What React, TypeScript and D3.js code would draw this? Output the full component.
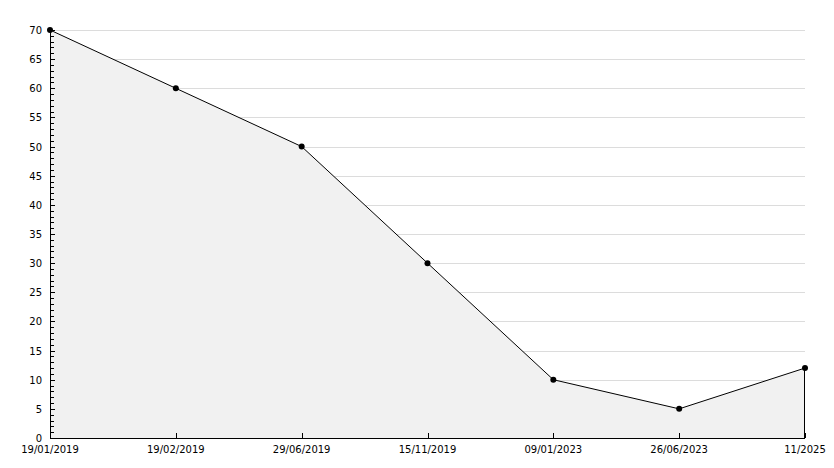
import React, { useEffect, useRef } from "react";
import * as d3 from "d3";

// chart values
const dates = ["19/01/2019", "19/02/2019", "29/06/2019", "15/11/2019", "09/01/2023", "26/06/2023", "11/2025"];
const values = [70, 60, 50, 30, 10, 5, 12];
const yTicks = d3.range(0, 71, 5);
const yMinorTicks = d3.range(0, 71, 1);

const W = 834, H = 468;
const margin = { top: 30, right: 29, bottom: 30, left: 50 };

function AreaChart() {
  const ref = useRef<SVGSVGElement>(null);

  useEffect(() => {
    const svg = d3.select(ref.current);
    svg.selectAll("*").remove();

    const width = W - margin.left - margin.right;
    const height = H - margin.top - margin.bottom;

    const x = d3.scalePoint<string>().domain(dates).range([0, width]);
    const y = d3.scaleLinear().domain([0, 70]).range([height, 0]);

    const g = svg.append("g")
      .attr("transform", "translate(" + margin.left + "," + margin.top + ")");

    // gridlines
    g.selectAll("line.grid")
      .data(yTicks.filter(t => t > 0))
      .enter()
      .append("line")
      .attr("class", "grid")
      .attr("x1", 0)
      .attr("x2", width)
      .attr("y1", d => Math.round(y(d)) + 0.5)
      .attr("y2", d => Math.round(y(d)) + 0.5)
      .attr("stroke", "#dcdcdc");

    const data = dates.map((d, i) => ({ d, v: values[i] }));

    const area = d3.area<{ d: string; v: number }>()
      .x(p => x(p.d)!)
      .y0(height)
      .y1(p => y(p.v));

    g.append("path")
      .datum(data)
      .attr("d", area)
      .attr("fill", "#f1f1f1")
      .attr("stroke", "none");

    // right edge of the area
    g.append("line")
      .attr("x1", x(dates[dates.length - 1])! - 0.5)
      .attr("x2", x(dates[dates.length - 1])! - 0.5)
      .attr("y1", y(values[values.length - 1]))
      .attr("y2", height)
      .attr("stroke", "#000");

    const line = d3.line<{ d: string; v: number }>()
      .x(p => x(p.d)!)
      .y(p => y(p.v));

    g.append("path")
      .datum(data)
      .attr("d", line)
      .attr("fill", "none")
      .attr("stroke", "#000")
      .attr("stroke-width", 1);

    // y axis
    g.append("line")
      .attr("x1", 0.5).attr("x2", 0.5)
      .attr("y1", 0).attr("y2", height)
      .attr("stroke", "#000");

    g.selectAll("line.minor")
      .data(yMinorTicks)
      .enter()
      .append("line")
      .attr("x1", 0)
      .attr("x2", d => (d % 5 === 0 ? 5 : 4))
      .attr("y1", d => Math.round(y(d)) + 0.5)
      .attr("y2", d => Math.round(y(d)) + 0.5)
      .attr("stroke", "#000");

    g.selectAll("text.ylab")
      .data(yTicks)
      .enter()
      .append("text")
      .attr("x", -8)
      .attr("y", d => y(d) + 4)
      .attr("text-anchor", "end")
      .attr("font-family", "DejaVu Sans")
      .attr("font-size", 10)
      .attr("fill", "#000")
      .text(d => d);

    // x axis
    g.append("line")
      .attr("x1", 0).attr("x2", width)
      .attr("y1", height + 0.5).attr("y2", height + 0.5)
      .attr("stroke", "#000");

    g.selectAll("line.xtick")
      .data(dates)
      .enter()
      .append("line")
      .attr("x1", d => Math.round(x(d)!) + 0.5)
      .attr("x2", d => Math.round(x(d)!) + 0.5)
      .attr("y1", height - 5)
      .attr("y2", height)
      .attr("stroke", "#000");

    g.selectAll("text.xlab")
      .data(dates)
      .enter()
      .append("text")
      .attr("x", d => x(d)!)
      .attr("y", height + 15)
      .attr("text-anchor", "middle")
      .attr("font-family", "DejaVu Sans")
      .attr("font-size", 10)
      .attr("fill", "#000")
      .text(d => d);

    // markers
    g.selectAll("circle")
      .data(data)
      .enter()
      .append("circle")
      .attr("cx", p => x(p.d)!)
      .attr("cy", p => y(p.v))
      .attr("r", 3)
      .attr("fill", "#000");
  }, []);

  return <svg ref={ref} width={W} height={H} style={{ display: "block" }}></svg>;
}

export default function App() {
  return (
    <div style={{ position: "absolute", left: 0, top: 0, background: "#fff" }}>
      <AreaChart />
    </div>
  );
}
